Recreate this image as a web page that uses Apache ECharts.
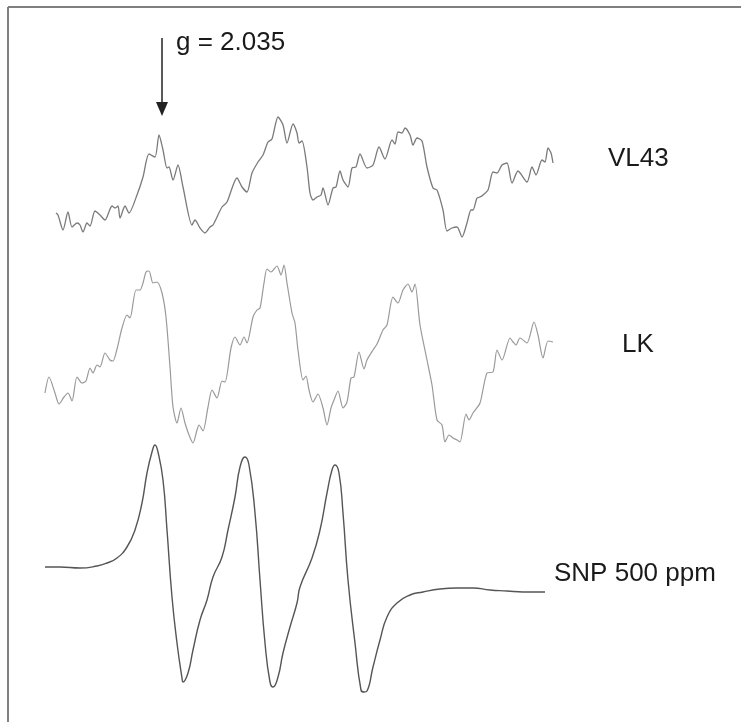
<!DOCTYPE html>
<html>
<head>
<meta charset="utf-8">
<script src="https://cdn.jsdelivr.net/npm/echarts@6/dist/echarts.min.js"></script>
<style>html,body{margin:0;padding:0;background:#fff;}#chart{width:741px;height:722px;}</style>
</head>
<body>
<div id="chart"></div>
<script>
// Field positions (arbitrary field units) and signal (arbitrary units)
const vl43Field = [11,13,18,23,27,32,35,38,42,45,50,55,60,67,70,73,75,80,84,92,98,104,110,114,118,122,124,128,133,138,147,150,155,160,165,168,177,182,192,197,202,207,213,218,223,227,233,238,242,248,252,254,257,262,265,268,272,276,278,283,288,291,295,298,303,307,311,315,322,328,334,340,347,350,353,357,360,365,368,372,377,382,388,392,398,402,407,412,417,422,426,428,432,435,438,443,448,452,457,462,467,473,482,487,491,497,500,503,506,508];
const vl43Signal = [-23,-25,-40,-22,-37,-33,-35,-42,-33,-36,-21,-25,-30,-16,-18,-16,-28,-16,-23,-5,13,36,33,55,40,22,23,10,25,3,-35,-30,-38,-43,-37,-35,-17,-12,12,3,-2,17,28,35,48,51,73,65,47,66,57,47,49,23,-3,-10,-7,-5,2,-15,2,3,19,10,3,22,23,36,22,25,43,31,50,46,58,57,62,55,45,52,49,23,2,0,-20,-41,-38,-37,-47,-33,-20,-20,-8,-7,-5,0,18,17,25,27,7,19,8,23,15,30,28,42,37,27];

const lkField = [0,4,10,14,19,23,27,32,37,41,45,48,52,55,60,65,68,72,77,82,85,91,95,98,101,104,108,112,117,121,125,128,132,136,140,144,148,152,154,158,163,167,172,177,180,186,190,195,199,202,208,212,215,219,222,226,232,236,239,242,247,250,253,258,261,264,268,273,278,282,286,289,293,298,302,306,309,314,319,322,328,332,338,342,348,353,358,363,367,370,375,382,387,392,397,400,404,408,412,415,421,424,428,435,442,448,452,457,465,468,471,475,482,489,493,498,503,508];
const lkSignal = [-33,-17,-33,-44,-37,-33,-41,-17,-23,-21,-8,-13,-5,-7,7,0,-1,11,32,45,42,70,70,77,88,89,77,78,67,43,-7,-47,-63,-48,-63,-75,-83,-70,-65,-71,-47,-30,-38,-21,-22,12,23,15,23,17,43,50,52,77,91,88,94,85,95,77,47,37,10,-20,-16,-30,-42,-34,-48,-65,-48,-40,-31,-48,-42,-18,-17,8,-9,0,10,16,30,35,63,57,70,76,68,76,35,0,-25,-60,-65,-82,-75,-78,-80,-82,-54,-60,-53,-43,-13,-12,10,0,22,18,15,22,17,38,25,2,19,18];

const snpField = [0,15,35,52,62,72,82,90,97,102,107,110,113,118,122,127,132,137,138,143,148,155,162,168,177,183,190,195,200,204,210,215,220,225,228,233,238,245,252,255,267,275,282,287,290,294,298,303,310,316,319,322,328,335,342,352,365,378,395,412,428,445,462,478,500];
const snpSignal = [0,0,-1,1,4,9,20,37,64,94,115,122,115,87,37,-30,-76,-111,-115,-106,-83,-53,-33,-10,10,37,70,100,110,102,54,-13,-76,-115,-120,-110,-86,-60,-36,-20,9,37,74,97,102,94,54,-13,-76,-123,-125,-124,-100,-73,-50,-36,-28,-25,-22,-21,-21,-23,-24,-25,-25];

const traceNames = ['VL43', 'LK', 'SNP 500 ppm'];
const gLabel = 'g = 2.035';

const pair = (xs, ys) => xs.map((x, i) => [x, ys[i]]);

const chart = echarts.init(document.getElementById('chart'), null, {renderer: 'canvas'});
const hiddenX = (gi) => ({type: 'value', gridIndex: gi, min: 0, max: 510, show: false});
const hiddenY = (gi, mn, mx) => ({type: 'value', gridIndex: gi, min: mn, max: mx, show: false});
const font = '"Liberation Sans", Arial, sans-serif';

chart.setOption({
  animation: false,
  backgroundColor: '#ffffff',
  grid: [
    {left: 45, top: 100, width: 510, height: 150},
    {left: 45, top: 250, width: 510, height: 200},
    {left: 45, top: 430, width: 510, height: 270}
  ],
  xAxis: [hiddenX(0), hiddenX(1), hiddenX(2)],
  yAxis: [hiddenY(0, -60, 90), hiddenY(1, -90, 110), hiddenY(2, -133, 137)],
  series: [
    {name: traceNames[0], type: 'line', xAxisIndex: 0, yAxisIndex: 0, data: pair(vl43Field, vl43Signal),
     showSymbol: false, smooth: 0.25, clip: false, lineStyle: {color: '#7a7a7a', width: 1.3}},
    {name: traceNames[1], type: 'line', xAxisIndex: 1, yAxisIndex: 1, data: pair(lkField, lkSignal),
     showSymbol: false, smooth: 0.25, clip: false, lineStyle: {color: '#9a9a9a', width: 1.2}},
    {name: traceNames[2], type: 'line', xAxisIndex: 2, yAxisIndex: 2, data: pair(snpField, snpSignal),
     showSymbol: false, smooth: 0.5, clip: false, lineStyle: {color: '#555555', width: 1.4}}
  ],
  graphic: [
    {type: 'line', shape: {x1: 8, y1: 7, x2: 741, y2: 7}, style: {stroke: '#7f7f7f', lineWidth: 2}},
    {type: 'line', shape: {x1: 8, y1: 7, x2: 8, y2: 722}, style: {stroke: '#7f7f7f', lineWidth: 2}},
    {type: 'line', shape: {x1: 162, y1: 38, x2: 162, y2: 104}, style: {stroke: '#222', lineWidth: 1.5}},
    {type: 'polygon', shape: {points: [[156, 102], [168, 102], [162, 116]]}, style: {fill: '#222'}},
    {type: 'text', left: 176, top: 30, style: {text: gLabel, font: '26px ' + font, fill: '#1a1a1a'}},
    {type: 'text', left: 608, top: 146, style: {text: traceNames[0], font: '26px ' + font, fill: '#1a1a1a'}},
    {type: 'text', left: 622, top: 332, style: {text: traceNames[1], font: '26px ' + font, fill: '#1a1a1a'}},
    {type: 'text', left: 554, top: 561, style: {text: traceNames[2], font: '26px ' + font, fill: '#1a1a1a'}}
  ]
});
</script>
</body>
</html>
